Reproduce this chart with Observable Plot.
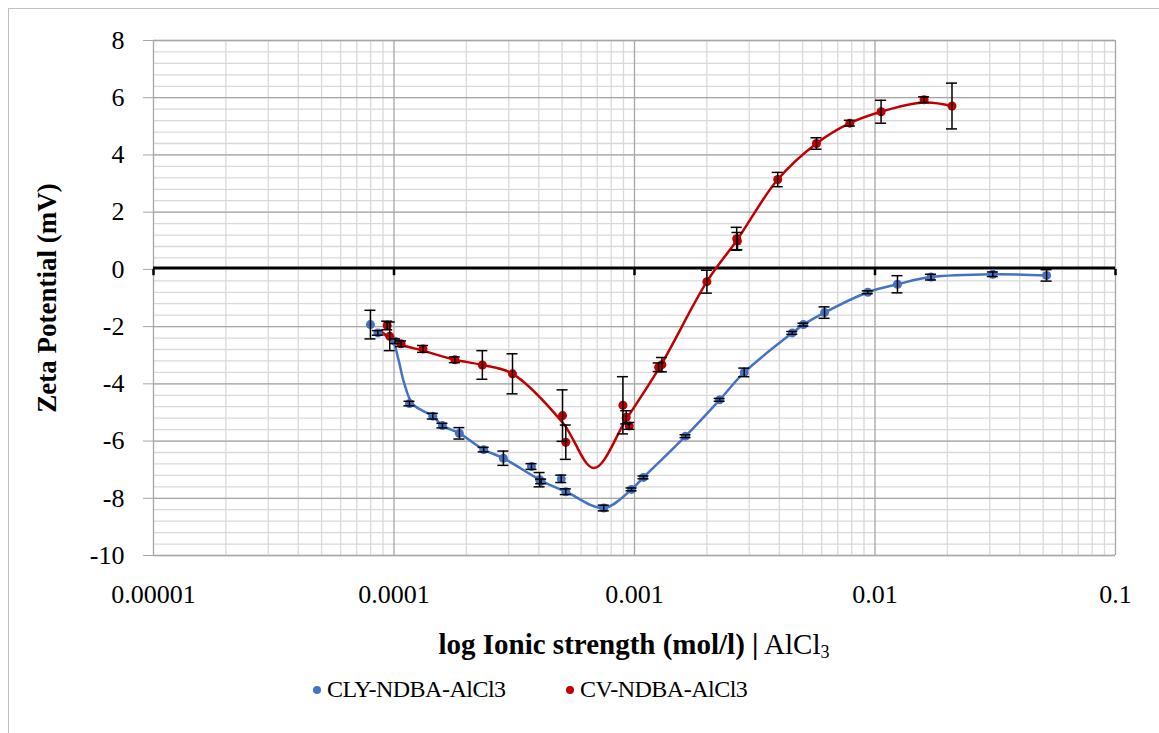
<!DOCTYPE html>
<html>
<head>
<meta charset="utf-8">
<script src="https://cdn.jsdelivr.net/npm/d3@7"></script>
<script src="https://cdn.jsdelivr.net/npm/@observablehq/plot@0.6"></script>
<style>
  body { margin: 0; background: #fff; font-family: "Liberation Serif", serif; }
  #wrap { position: relative; width: 1159px; height: 733px; overflow: hidden; background: #fff; }
  #frame { position: absolute; left: 8px; top: 8px; width: 1170px; height: 760px; border: 1px solid #bfbfbf; box-sizing: border-box; }
  #chart { position: absolute; left: 0; top: 0; }
  #xtitle { position: absolute; top: 627px; left: 0; width: 1268px; text-align: center; font-size: 29px; line-height: 34px; color: #000; white-space: nowrap; }
  #xtitle b { font-weight: bold; }
  #xtitle sub { font-size: 18px; vertical-align: -4px; line-height: 0; }
  #legend { position: absolute; top: 676px; left: 0; font-size: 24px; color: #000; white-space: nowrap; letter-spacing: -0.5px; }
  .item { position: absolute; top: 0; display: inline-flex; align-items: center; }
  .sw { display: inline-block; width: 8px; height: 8px; border-radius: 50%; margin-right: 6px; }
</style>
</head>
<body>
<div id="wrap">
  <div id="frame"></div>
  <div id="chart"></div>
  <div id="xtitle"><b>log Ionic strength (mol/l) |</b> AlCl<sub>3</sub></div>
  <div id="legend"></div>
</div>
<script>
// ---- axis ticks ----
const xTickValues = [1e-5, 1e-4, 1e-3, 1e-2, 1e-1];
const xTickLabels = ["0.00001", "0.0001", "0.001", "0.01", "0.1"];
const yTickValues = [-10, -8, -6, -4, -2, 0, 2, 4, 6, 8];

// ---- series names / colours ----
const seriesNames = ["CLY-NDBA-AlCl3", "CV-NDBA-AlCl3"];
const seriesColors = ["#4472C4", "#C00000"];

// ---- CLY-NDBA-AlCl3 measured points ----
const clyX = [7.98e-5, 8.57e-5, 1.01e-4, 1.16e-4, 1.45e-4, 1.59e-4, 1.87e-4, 2.36e-4, 2.85e-4, 3.73e-4,
              4.03e-4, 4.09e-4, 4.96e-4, 5.18e-4, 7.45e-4, 9.72e-4, 1.09e-3, 1.63e-3, 2.26e-3, 2.86e-3,
              4.53e-3, 5.04e-3, 6.17e-3, 9.33e-3, 1.24e-2, 1.71e-2, 3.09e-2, 5.17e-2];
const clyY = [-1.93, -2.22, -2.51, -4.69, -5.13, -5.46, -5.73, -6.30, -6.60, -6.89,
              -7.35, -7.41, -7.32, -7.77, -8.34, -7.69, -7.27, -5.83, -4.56, -3.60,
              -2.22, -1.93, -1.51, -0.80, -0.52, -0.27, -0.17, -0.21];
const clyErr = [0.5, 0.08, 0.08, 0.08, 0.1, 0.08, 0.2, 0.08, 0.25, 0.1,
                0.25, 0.08, 0.13, 0.1, 0.1, 0.05, 0.05, 0.05, 0.05, 0.15,
                0.05, 0.05, 0.2, 0.05, 0.3, 0.1, 0.08, 0.2];
// smoothed trend line knots
const clyCurveX = [8.57e-5, 9.8e-5, 1.04e-4, 1.1e-4, 1.2e-4, 1.45e-4, 1.59e-4, 1.87e-4, 2.36e-4, 2.85e-4,
                   4.09e-4, 5.18e-4, 7.45e-4, 9.72e-4, 1.09e-3, 1.63e-3, 2.26e-3, 2.86e-3, 4.53e-3, 5.04e-3,
                   6.17e-3, 9.33e-3, 1.24e-2, 1.71e-2, 3.09e-2, 5.17e-2];
const clyCurveY = [-2.22, -2.45, -3.1, -3.95, -4.72, -5.13, -5.46, -5.73, -6.30, -6.60,
                   -7.38, -7.77, -8.34, -7.69, -7.27, -5.83, -4.56, -3.60, -2.22, -1.93,
                   -1.51, -0.80, -0.52, -0.27, -0.17, -0.21];

// ---- CV-NDBA-AlCl3 measured points ----
const cvX = [9.37e-5, 9.6e-5, 1.07e-4, 1.32e-4, 1.79e-4, 2.33e-4, 3.11e-4, 5.02e-4, 5.18e-4, 8.95e-4,
             9.24e-4, 9.51e-4, 1.26e-3, 1.30e-3, 2.0e-3, 2.66e-3, 2.68e-3, 3.94e-3, 5.71e-3, 7.86e-3,
             1.06e-2, 1.60e-2, 2.09e-2];
const cvY = [-1.96, -2.34, -2.60, -2.78, -3.16, -3.34, -3.65, -5.11, -6.04, -4.75,
             -5.17, -5.47, -3.42, -3.33, -0.43, 1.07, 0.99, 3.14, 4.40, 5.11,
             5.51, 5.93, 5.71];
const cvErr = [0.15, 0.5, 0.1, 0.12, 0.1, 0.5, 0.7, 0.9, 0.6, 1.0,
               0.23, 0.12, 0.15, 0.25, 0.4, 0.4, 0.3, 0.25, 0.2, 0.1,
               0.4, 0.1, 0.8];
const cvCurveX = [8.8e-5, 1.07e-4, 1.32e-4, 1.79e-4, 2.33e-4, 3.11e-4, 5.02e-4, 6.78e-4, 9.3e-4, 1.28e-3,
                  2.0e-3, 2.67e-3, 3.94e-3, 5.71e-3, 7.86e-3, 1.06e-2, 1.6e-2, 2.09e-2];
const cvCurveY = [-2.16, -2.62, -2.84, -3.16, -3.34, -3.65, -5.35, -6.94, -5.2, -3.38,
                  -0.43, 1.03, 3.14, 4.40, 5.11, 5.51, 5.83, 5.71];

// ---- build tables ----
const pts = (xs, ys, es) => xs.map((x, i) => ({x, y: ys[i], e: es[i]}));
const crv = (xs, ys) => xs.map((x, i) => ({x, y: ys[i]}));
const cly = pts(clyX, clyY, clyErr);
const cv = pts(cvX, cvY, cvErr);
const clyCurve = crv(clyCurveX, clyCurveY);
const cvCurve = crv(cvCurveX, cvCurveY);

// gridline positions
const xMinor = xTickValues.slice(0, -1).flatMap(d => d3.range(2, 10).map(k => k * d));
const yMinor = d3.range(0, 46).map(i => -10 + i * 0.4);

const capF = Math.pow(10, 5.5 / 240.5); // half-width of error-bar caps on log axis

function errorMarks(data) {
  return [
    Plot.ruleX(data, {x: "x", y1: d => d.y - d.e, y2: d => d.y + d.e, stroke: "#000", strokeWidth: 1.5}),
    Plot.ruleY(data, {y: d => d.y + d.e, x1: d => d.x / capF, x2: d => d.x * capF, stroke: "#000", strokeWidth: 1.5}),
    Plot.ruleY(data, {y: d => d.y - d.e, x1: d => d.x / capF, x2: d => d.x * capF, stroke: "#000", strokeWidth: 1.5})
  ];
}

const chart = Plot.plot({
  width: 1159,
  height: 610,
  marginLeft: 153,
  marginRight: 44,
  marginTop: 40,
  marginBottom: 55,
  style: {fontFamily: '"Liberation Serif", serif', fontSize: "26px", color: "#000", background: "transparent", overflow: "visible"},
  x: {type: "log", domain: [1e-5, 0.1]},
  y: {domain: [-10, 8]},
  marks: [
    Plot.ruleX(xMinor, {stroke: "#d9d9d9", strokeWidth: 1.3}),
    Plot.ruleY(yMinor, {stroke: "#d9d9d9", strokeWidth: 1.3}),
    Plot.ruleX(xTickValues, {stroke: "#a6a6a6", strokeWidth: 1.3}),
    Plot.ruleY(yTickValues, {stroke: "#a6a6a6", strokeWidth: 1.3}),
    Plot.axisX({ticks: xTickValues, tickFormat: d => xTickLabels[xTickValues.indexOf(d)], tickSize: 0, tickPadding: 29, label: null, fontSize: 26}),
    Plot.axisY({ticks: yTickValues, tickFormat: d => String(d), tickSize: 10, tickPadding: 19, stroke: "#a6a6a6", label: null, fontSize: 26}),
    Plot.text(["Zeta Potential (mV)"], {frameAnchor: "left", textAnchor: "middle", dx: -106, rotate: -90, fontWeight: "bold", fontSize: 27, fill: "#000"}),
    Plot.ruleY([0], {stroke: "#000", strokeWidth: 2.8, dy: -1.5}),
    Plot.ruleX(xTickValues, {y1: 0, y2: -0.22, stroke: "#000", strokeWidth: 2.5}),
    Plot.line(clyCurve, {x: "x", y: "y", curve: "catmull-rom", stroke: seriesColors[0], strokeWidth: 2.5}),
    Plot.line(cvCurve, {x: "x", y: "y", curve: "catmull-rom", stroke: seriesColors[1], strokeWidth: 2.5}),
    Plot.dot(cly, {x: "x", y: "y", r: 4.5, fill: seriesColors[0]}),
    Plot.dot(cv, {x: "x", y: "y", r: 4.5, fill: seriesColors[1]}),
    ...errorMarks(cly),
    ...errorMarks(cv)
  ]
});
document.getElementById("chart").appendChild(chart);

// legend
const legend = document.getElementById("legend");
const legendLeft = [313, 566];
seriesNames.forEach((name, i) => {
  const item = document.createElement("span");
  item.className = "item";
  item.style.left = legendLeft[i] + "px";
  const sw = document.createElement("span");
  sw.className = "sw";
  sw.style.background = seriesColors[i];
  item.appendChild(sw);
  item.appendChild(document.createTextNode(name));
  legend.appendChild(item);
});
</script>
</body>
</html>
